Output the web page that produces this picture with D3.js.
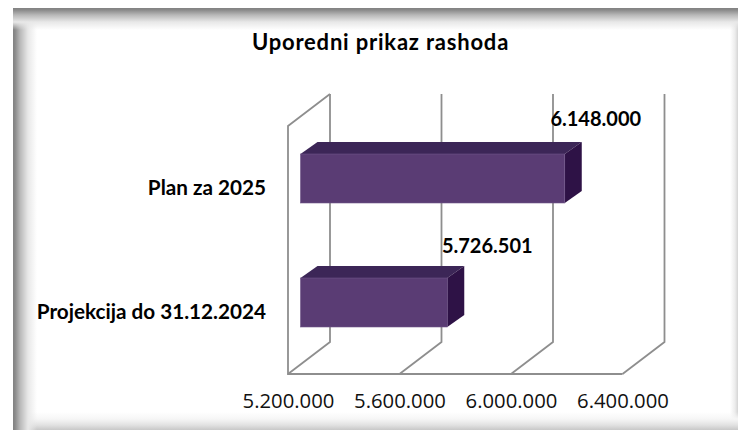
<!DOCTYPE html>
<html><head><meta charset="utf-8">
<script src="https://cdn.jsdelivr.net/npm/d3@7/dist/d3.min.js"></script>
<style>
html,body{margin:0;padding:0;background:#fff;overflow:hidden}
#frame{position:absolute;left:13px;top:8px;width:725px;height:422px;background:
 linear-gradient(to bottom,#828282 0,#8a8a8a 2px,#b8b8b8 7px,#e8e8e8 14px,rgba(255,255,255,0) 22px),
 linear-gradient(to right,#828282 0,#8a8a8a 2px,#b8b8b8 7px,#e8e8e8 15px,rgba(255,255,255,0) 24px),
 linear-gradient(to top,#c8c8c8 0,#e2e2e2 5px,#f6f6f6 11px,rgba(255,255,255,0) 18px),
 linear-gradient(to left,#d4d4d4 0,#ececec 3px,rgba(255,255,255,0) 8px),#fff}
svg{position:absolute;left:0;top:0}
</style></head><body>
<div id="frame"></div>
<svg id="c" width="738" height="430"></svg>
<script>
const categories = ["Plan za 2025", "Projekcija do 31.12.2024"];
const values = [6148000, 5726501];
const valueLabels = ["6.148.000", "5.726.501"];
const tickValues = [5200000, 5600000, 6000000, 6400000];
const title = "Uporedni prikaz rashoda";

const svg = d3.select("#c");
const x = d3.scaleLinear().domain([5200000, 6400000]).range([288, 622.5]);
const y = d3.scaleBand().domain(categories).range([126, 374]).paddingInner(0.605).paddingOuter(0.3025);
const depth = {x: 42, y: -32};
const barDepth = {x: 17, y: -12};
const inset = {x: 12.5, y: -9.5};
const labelShift = [{x: 31, y: -28}, {x: 40, y: -25}];
const fmt = d3.formatLocale({decimal: ",", thousands: ".", grouping: [3], currency: ["", ""]}).format(",d");

const top0 = y.range()[0], bot0 = y.range()[1];
const grid = "#8e8e8e";
const line = d3.line();
svg.append("g").selectAll("path").data(tickValues).join("path")
  .attr("d", t => line([[x(t), bot0], [x(t) + depth.x, bot0 + depth.y], [x(t) + depth.x, top0 + depth.y]]))
  .attr("fill", "none").attr("stroke", grid).attr("stroke-width", 1.8);
svg.append("path")
  .attr("d", line([[x(tickValues[0]) + depth.x, top0 + depth.y], [x(tickValues[0]), top0], [x(tickValues[0]), bot0], [x(tickValues[3]), bot0]]))
  .attr("fill", "none").attr("stroke", grid).attr("stroke-width", 1.8);

const bars = svg.append("g").selectAll("g").data(categories).join("g");
const X0 = x.domain()[0];
const bx0 = () => x(X0) + inset.x;
const bx1 = i => x(values[i]) + inset.x;
const by0 = c => y(c) + inset.y;
const by1 = c => y(c) + inset.y + y.bandwidth();
bars.append("path").attr("fill", "#3c2657")
  .attr("d", (c, i) => line([[bx0(), by0(c)], [bx0() + barDepth.x, by0(c) + barDepth.y], [bx1(i) + barDepth.x, by0(c) + barDepth.y], [bx1(i), by0(c)]]) + "Z");
bars.append("path").attr("fill", "#2e1246")
  .attr("d", (c, i) => line([[bx1(i), by0(c)], [bx1(i) + barDepth.x, by0(c) + barDepth.y], [bx1(i) + barDepth.x, by1(c) + barDepth.y], [bx1(i), by1(c)]]) + "Z");
bars.append("rect").attr("fill", "#5a3c74").attr("stroke", "#6f5488").attr("stroke-width", 0.6)
  .attr("x", bx0()).attr("y", c => by0(c))
  .attr("width", (c, i) => bx1(i) - bx0()).attr("height", y.bandwidth());

const axis = d3.axisBottom(x).tickValues(tickValues).tickFormat(fmt).tickSize(0).tickPadding(0);
const ag = svg.append("g").attr("transform", `translate(0,${bot0})`).call(axis);
ag.select(".domain").remove();
ag.selectAll("text").attr("font-family", "Open Sans").attr("font-size", 20.3).attr("fill", "#111").attr("y", 34).attr("dy", 0);

svg.append("g").selectAll("text").data(categories).join("text")
  .attr("x", 266).attr("y", c => y(c) + y.bandwidth() / 2 + 6.5)
  .attr("text-anchor", "end").attr("font-family", "Lato").attr("font-weight", 700).attr("font-size", 20.7).attr("fill", "#000")
  .text(c => c);

svg.append("g").selectAll("text").data(categories).join("text")
  .attr("x", (c, i) => bx1(i) + labelShift[i].x).attr("y", (c, i) => by0(c) + labelShift[i].y)
  .attr("text-anchor", "middle").attr("font-family", "Lato").attr("font-weight", 700).attr("font-size", 20).attr("fill", "#000")
  .text((c, i) => valueLabels[i]);

svg.append("text").attr("x", 380.5).attr("y", 50).attr("text-anchor", "middle").attr("letter-spacing", 0.8)
  .attr("font-family", "Lato").attr("font-weight", 700).attr("font-size", 22).attr("fill", "#000").text(title);
</script>
</body></html>
